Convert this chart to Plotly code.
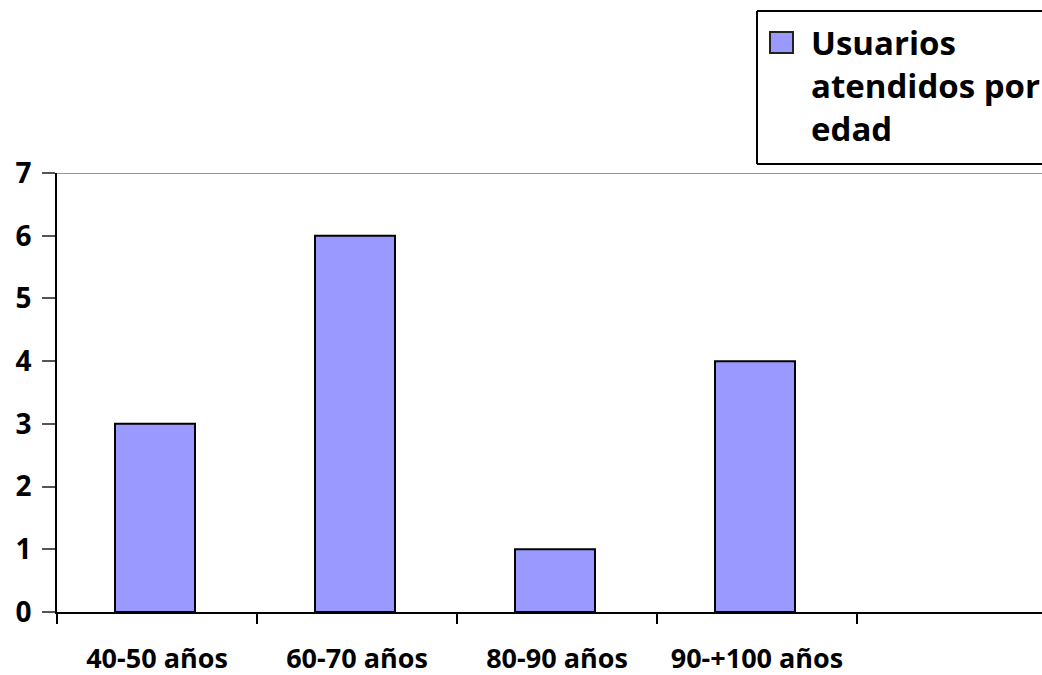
import plotly.graph_objects as go

# Datos
categorias = ["40-50 años", "60-70 años", "80-90 años", "90-+100 años"]
usuarios = [3, 6, 1, 4]
serie = "Usuarios atendidos por edad"
serie_lineas = "Usuarios<br>atendidos por<br>edad"

color_barra = "#9999FF"
fuente = "Open Sans"

W, H = 1042, 675
ML, MR, MT, MB = 57, 0, 173, 63
PW = W - ML - MR
PH = H - MT - MB


def px_x(p):
    return (p - ML) / PW


def px_y(p):
    return (H - MB - p) / PH


fig = go.Figure()
fig.add_trace(go.Bar(
    x=categorias,
    y=usuarios,
    name=serie,
    width=0.4,
    offset=-0.21,
    marker=dict(color=color_barra, line=dict(color="black", width=2)),
    showlegend=False,
))

fig.update_layout(
    width=W,
    height=H,
    margin=dict(l=ML, r=MR, t=MT, b=MB, autoexpand=False),
    paper_bgcolor="white",
    plot_bgcolor="white",
    font=dict(family=fuente, size=27, color="black", weight="bold"),
    xaxis=dict(
        type="category",
        categoryorder="array",
        categoryarray=categorias + [" "],
        range=[-0.5, -0.5 + PW / 200],
        tickson="boundaries",
        ticks="outside",
        ticklen=10,
        tickwidth=2,
        tickcolor="black",
        showline=True,
        linecolor="black",
        linewidth=2,
        showgrid=False,
        ticklabelstandoff=22,
        tickfont=dict(family=fuente, size=27, weight="bold"),
    ),
    yaxis=dict(
        range=[0, 7],
        dtick=1,
        ticks="outside",
        ticklen=13,
        tickwidth=2,
        tickcolor="#555555",
        showline=True,
        linecolor="black",
        linewidth=2,
        showgrid=False,
        zeroline=False,
        ticklabelstandoff=5,
        tickfont=dict(family=fuente, size=28, weight="bold"),
    ),
)

# Línea superior del área de trazado
fig.add_shape(type="line", xref="paper", yref="y", x0=0, x1=1, y0=7, y1=7,
              line=dict(color="#999999", width=2), layer="below")

# Leyenda: marco abierto por la derecha (llega hasta el borde de la figura)
xl, xr = px_x(757), 1
yt, yb = px_y(11), px_y(164)
fig.add_shape(type="line", xref="paper", yref="paper",
              x0=xl, x1=xr, y0=yt, y1=yt, line=dict(color="black", width=2))
fig.add_shape(type="line", xref="paper", yref="paper",
              x0=xl, x1=xr, y0=yb, y1=yb, line=dict(color="black", width=2))
fig.add_shape(type="line", xref="paper", yref="paper",
              x0=xl, x1=xl, y0=yb, y1=yt, line=dict(color="black", width=2))
fig.add_shape(type="rect", xref="paper", yref="paper",
              x0=px_x(770), x1=px_x(793), y0=px_y(53), y1=px_y(32),
              line=dict(color="#222222", width=2), fillcolor=color_barra)
fig.add_annotation(
    xref="paper", yref="paper", x=px_x(810), y=px_y(19),
    xanchor="left", yanchor="top", align="left", showarrow=False,
    text=serie_lineas, borderpad=0,
    font=dict(family=fuente, size=33, color="black", weight="bold"),
)

fig.write_html("out.html")
